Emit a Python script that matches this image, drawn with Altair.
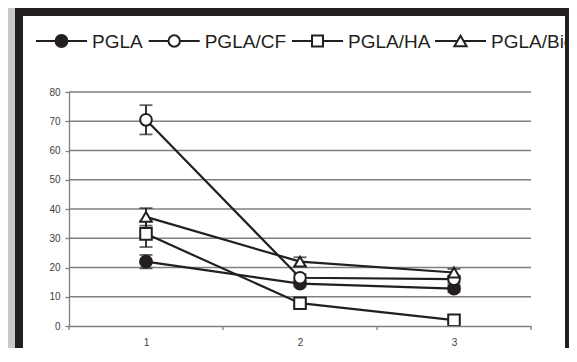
import altair as alt
import pandas as pd

# ---- data ----
categories = [1, 2, 3]
series_names = ["PGLA", "PGLA/CF", "PGLA/HA", "PGLA/Bioglass"]
pgla = [22.0, 14.5, 12.8]
pgla_err = [2.3, 1.0, 1.2]
pgla_cf = [70.5, 16.5, 16.0]
pgla_cf_err = [5.0, 1.2, 1.2]
pgla_ha = [31.5, 7.8, 2.0]
pgla_ha_err = [4.5, 1.0, 0.8]
pgla_bi = [37.3, 22.0, 18.3]
pgla_bi_err = [3.0, 1.5, 1.2]
y_ticks = [0, 10, 20, 30, 40, 50, 60, 70, 80]
grid_values = [10, 20, 30, 40, 50, 60, 70, 80]
band_edges = [0.5, 1.5, 2.5, 3.5]

values = [pgla, pgla_cf, pgla_ha, pgla_bi]
errors = [pgla_err, pgla_cf_err, pgla_ha_err, pgla_bi_err]

rows = []
for name, vals, errs in zip(series_names, values, errors):
    for c, v, e in zip(categories, vals, errs):
        rows.append({"series": name, "x": c, "y": v, "lo": v - e, "hi": v + e})
df = pd.DataFrame(rows)

# ---- styling ----
INK = "#231f20"
GRID = "#7f7f7f"
LABEL = "#404040"
W, H = 462, 234
shapes = ["circle", "circle", "square", "triangle-up"]
fills = [INK, "white", "white", "white"]
sizes = [140, 130, 120, 150]

xscale = alt.Scale(domain=[0.5, 3.5], nice=False, zero=False)
yscale = alt.Scale(domain=[0, 80], nice=False)

x_axis = alt.Axis(
    values=categories, format="d", title=None, grid=False, zindex=1,
    domainColor=GRID, domainWidth=1.3, tickSize=4, tickColor="transparent",
    labelPadding=7, labelFontSize=10, labelColor=LABEL, labelFont="Liberation Sans",
)
y_axis = alt.Axis(
    values=y_ticks, title=None, grid=False, zindex=1,
    domainColor=GRID, domainWidth=1.3, tickColor=GRID, tickSize=4, tickWidth=1.3,
    labelPadding=5, labelFontSize=10, labelColor=LABEL, labelFont="Liberation Sans",
)


def X(field):
    return alt.X(field, scale=xscale, axis=x_axis)


def Y(field):
    return alt.Y(field, scale=yscale, axis=y_axis)


one = pd.DataFrame({"a": [0]})

# frame: plot origin is at page (69, 92); chart is 561 wide starting at page x=8
frame = alt.Chart(one).mark_rect(color=INK).encode(
    x=alt.value(-54), x2=alt.value(500), y=alt.value(-84), y2=alt.value(300)
)
inner = alt.Chart(one).mark_rect(color="white").encode(
    x=alt.value(-46), x2=alt.value(496), y=alt.value(-76), y2=alt.value(300)
)

gridlines = alt.Chart(pd.DataFrame({"g": grid_values})).mark_rule(color=GRID, strokeWidth=1.4).encode(
    y=Y("g:Q"), x=alt.value(0), x2=alt.value(W)
)
lines = alt.Chart(df).mark_line(color=INK, strokeWidth=2.2).encode(
    x=X("x:Q"), y=Y("y:Q"), detail="series:N"
)
err_rule = alt.Chart(df).mark_rule(color=INK, strokeWidth=1.8).encode(
    x=X("x:Q"), y=Y("lo:Q"), y2="hi:Q"
)
cap_lo = alt.Chart(df).mark_tick(orient="horizontal", color=INK, size=13, thickness=1.8).encode(
    x=X("x:Q"), y=Y("lo:Q")
)
cap_hi = alt.Chart(df).mark_tick(orient="horizontal", color=INK, size=13, thickness=1.8).encode(
    x=X("x:Q"), y=Y("hi:Q")
)
points = alt.Chart(df).mark_point(filled=True, stroke=INK, strokeWidth=2, opacity=1).encode(
    x=X("x:Q"),
    y=Y("y:Q"),
    shape=alt.Shape("series:N", scale=alt.Scale(domain=series_names, range=shapes), legend=None),
    fill=alt.Fill("series:N", scale=alt.Scale(domain=series_names, range=fills), legend=None),
    size=alt.Size("series:N", scale=alt.Scale(domain=series_names, range=sizes), legend=None),
)
edge_ticks = alt.Chart(pd.DataFrame({"b": band_edges})).mark_rule(color=GRID, strokeWidth=1.3).encode(
    x=X("b:Q"), y=alt.value(H), y2=alt.value(H + 4)
)

# ---- legend (drawn as decoration) ----
legend_layers = []
leg_starts = [-33, 79.7, 223, 366]
leg_y = -51
for name, x0, shp, fc, sz in zip(series_names, leg_starts, shapes, fills, sizes):
    legend_layers.append(
        alt.Chart(one).mark_rule(color=INK, strokeWidth=2.2).encode(
            x=alt.value(x0), x2=alt.value(x0 + 51), y=alt.value(leg_y)
        )
    )
    legend_layers.append(
        alt.Chart(one).mark_point(filled=True, fill=fc, stroke=INK, strokeWidth=2,
                                  opacity=1, shape=shp, size=sz).encode(
            x=alt.value(x0 + 25.5), y=alt.value(leg_y)
        )
    )
    legend_layers.append(
        alt.Chart(one).mark_text(text=name, align="left", baseline="middle", fontSize=19,
                                 font="Liberation Sans", color=INK).encode(
            x=alt.value(x0 + 56), y=alt.value(leg_y + 1)
        )
    )

right_strip = alt.Chart(one).mark_rect(color=INK).encode(
    x=alt.value(496), x2=alt.value(500), y=alt.value(-84), y2=alt.value(300)
)

chart = alt.layer(
    frame, inner, gridlines, edge_ticks, lines, err_rule, cap_lo, cap_hi, points,
    *legend_layers, right_strip,
).properties(
    width=W, height=H,
    autosize=alt.AutoSizeParams(type="none"),
    padding={"left": 61, "top": 84, "right": 38, "bottom": 22},
).configure(background="#c7c8ca").configure_view(stroke=None)

chart.save("out.html", embed_options={"renderer": "svg", "actions": False})
